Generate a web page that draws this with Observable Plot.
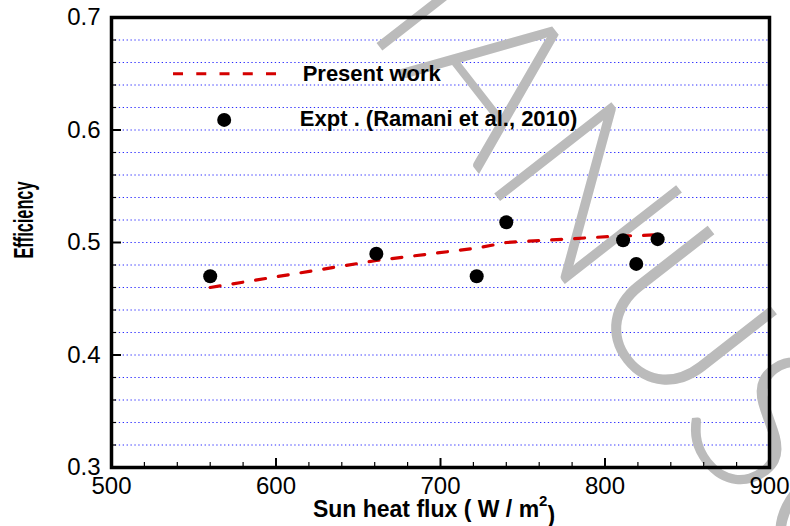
<!DOCTYPE html>
<html>
<head>
<meta charset="utf-8">
<script src="https://cdn.jsdelivr.net/npm/d3@7"></script>
<script src="https://cdn.jsdelivr.net/npm/@observablehq/plot@0.6"></script>
<style>
  html, body { margin: 0; padding: 0; background: #fff; }
  #chart { width: 790px; height: 526px; overflow: hidden; }
</style>
</head>
<body>
<div id="chart"></div>
<script>
// ---------------- data ----------------
const expFlux = [560, 661, 722, 740, 811, 819, 832];
const expEff  = [0.470, 0.490, 0.470, 0.518, 0.502, 0.481, 0.503];
const simFlux = [560, 661, 722, 740, 811, 819, 832];
const simEff  = [0.460, 0.484, 0.495, 0.500, 0.506, 0.506, 0.507];

const xMajorTicks = [500, 600, 700, 800, 900];
const xMinorTicks = [520, 540, 560, 580, 620, 640, 660, 680, 720, 740, 760, 780, 820, 840, 860, 880];
const yMajorTicks = [0.3, 0.4, 0.5, 0.6, 0.7];
const yMinorTicks = [0.32, 0.34, 0.36, 0.38, 0.42, 0.44, 0.46, 0.48, 0.52, 0.54, 0.56, 0.58, 0.62, 0.64, 0.66, 0.68];
const yGridLines  = [0.32, 0.34, 0.36, 0.38, 0.40, 0.42, 0.44, 0.46, 0.48, 0.50, 0.52, 0.54, 0.56, 0.58, 0.60, 0.62, 0.64, 0.66, 0.68];

const legendLabels = ["Present work", "Expt . (Ramani et al., 2010)"];
const xTitleMain = "Sun heat flux ( W / m";
const xTitleSup = "2";
const xTitleEnd = ")";
const yTitle = "Efficiency";
const watermarkText = "MANUSCRIPT";

// ---------------- layout / style ----------------
const W = 790, H = 526;
const mL = 111, mR = 21, mT = 17, mB = 59;
const plotW = W - mL - mR, plotH = H - mT - mB;
const FONT = "'Liberation Sans', Arial, Helvetica, sans-serif";
const RED = "#d40000";

const sim = simFlux.map((x, i) => ({x, y: simEff[i]}));
const exp = expFlux.map((x, i) => ({x, y: expEff[i]}));

const plot = Plot.plot({
  width: W, height: H,
  marginLeft: mL, marginRight: mR, marginTop: mT, marginBottom: mB,
  style: {fontFamily: FONT, fontSize: "24px", background: "#fff", color: "#000"},
  x: {domain: [500, 900]},
  y: {domain: [0.3, 0.7]},
  marks: [
    // dotted blue grid
    Plot.ruleY(yGridLines, {stroke: "#2a2aff", strokeWidth: 1, strokeDasharray: "1.3,2.6"}),
    // watermark
    Plot.text([watermarkText], {
      frameAnchor: "top-left", text: d => d, dx: 167, dy: -100, rotate: 52,
      textAnchor: "start", lineAnchor: "bottom",
      fontSize: 210, fontFamily: "Lato, 'Liberation Sans', sans-serif", fontWeight: 300, fill: "#bbbbbb"
    }),
    // present work (dashed red)
    Plot.line(sim, {x: "x", y: "y", stroke: RED, strokeWidth: 3.2, strokeDasharray: "10,13"}),
    // experiment dots
    Plot.dot(exp, {x: "x", y: "y", r: 7, fill: "#000", stroke: null}),
    // legend
    Plot.ruleY([0.65], {x1: 537.7, x2: 600.4, stroke: RED, strokeWidth: 3.2, strokeDasharray: "10,13.25"}),
    Plot.dot([0.609], {x: 568.5, y: d => d, r: 7, fill: "#000", stroke: null}),
    Plot.text(legendLabels, {
      x: [616.2, 614.5], y: [0.65, 0.61], text: d => d,
      textAnchor: "start", lineAnchor: "middle",
      fontSize: 22, fontWeight: "bold", fill: "#000"
    }),
    // inward ticks
    Plot.ruleX(xMajorTicks.slice(1, -1), {insetTop: plotH - 9, stroke: "#000", strokeWidth: 2}),
    Plot.ruleX(xMinorTicks, {insetTop: plotH - 5, stroke: "#000", strokeWidth: 1.2}),
    Plot.ruleY(yMajorTicks.slice(1, -1), {insetRight: plotW - 10, stroke: "#000", strokeWidth: 2}),
    Plot.ruleY(yMinorTicks, {insetRight: plotW - 5, stroke: "#000", strokeWidth: 1.2}),
    // frame
    Plot.frame({stroke: "#000", strokeWidth: 3.5}),
    // axes (labels only)
    Plot.axisX(xMajorTicks, {tickSize: 0, tickPadding: 9, label: null, fontSize: 24, fill: "#000"}),
    Plot.axisY(yMajorTicks, {tickSize: 0, tickPadding: 11, label: null, fontSize: 24, fill: "#000",
      tickFormat: d => d.toFixed(1)})
  ]
});

document.getElementById("chart").appendChild(plot);

// axis titles
const svg = d3.select(plot);
const xt = svg.append("text")
  .attr("x", 434).attr("y", 517)
  .attr("text-anchor", "middle")
  .attr("font-family", FONT).attr("font-size", 23).attr("font-weight", "bold").attr("fill", "#000");
xt.append("tspan").text(xTitleMain);
xt.append("tspan").attr("dy", "-0.72em").attr("font-size", 15).text(xTitleSup);
xt.append("tspan").attr("dy", "0.72em").text(xTitleEnd);

svg.append("text")
  .attr("transform", "translate(33,220) rotate(-90)")
  .attr("text-anchor", "middle")
  .attr("font-family", FONT).attr("font-size", 27).attr("font-weight", "bold").attr("fill", "#000")
  .attr("textLength", 77).attr("lengthAdjust", "spacingAndGlyphs")
  .text(yTitle);
</script>
</body>
</html>
